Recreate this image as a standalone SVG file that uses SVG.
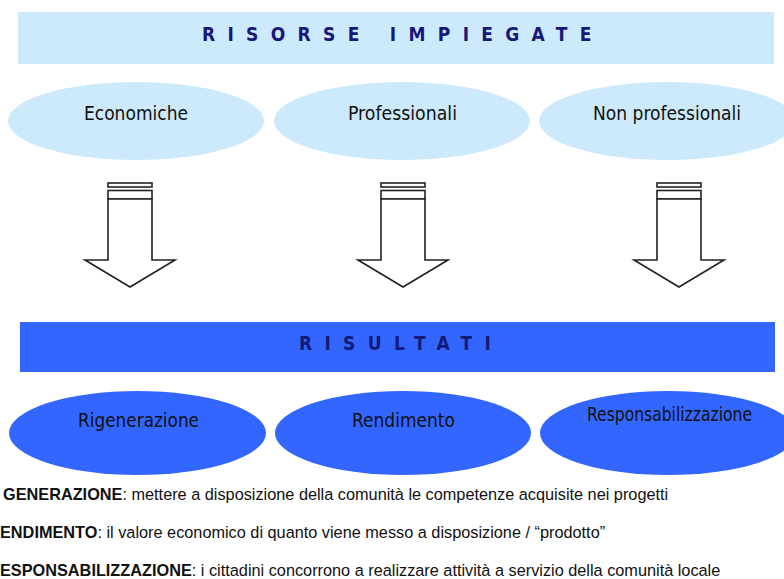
<svg xmlns="http://www.w3.org/2000/svg" width="784" height="579" viewBox="0 0 784 579">
<style>
.light{fill:#cceafb}
.dark{fill:#3366ff}
.title{font-family:"DejaVu Sans Condensed","DejaVu Sans",sans-serif;font-size:19px;font-weight:bold;fill:#17177a;letter-spacing:12.3px}
.lbl{font-family:"DejaVu Sans Condensed","DejaVu Sans",sans-serif;font-size:19px;fill:#111}
.desc{font-family:"Liberation Sans",Arial,sans-serif;font-size:16.3px;fill:#111}
.desc tspan.b{font-weight:bold}
.arrow{fill:#fff;stroke:#222;stroke-width:1.6;stroke-linejoin:miter}
</style>
<defs>
<g id="downArrow">
<rect class="arrow" x="-22" y="183" width="44" height="4"/>
<rect class="arrow" x="-22" y="190.5" width="44" height="8.5"/>
<path class="arrow" d="M -22 199 V 260 H -45 L 0 287 L 45 260 H 22 V 199 Z"/>
</g>
</defs>

<g id="risorse">
<rect class="light" x="18" y="12" width="756" height="52"/>
<text class="title" x="202" y="41">RISORSE IMPIEGATE</text>
</g>

<g id="economiche">
<ellipse class="light" cx="136" cy="121" rx="128" ry="39"/>
<text class="lbl" x="84" y="120" textLength="104" lengthAdjust="spacingAndGlyphs">Economiche</text>
</g>
<g id="professionali">
<ellipse class="light" cx="402" cy="121" rx="128" ry="39"/>
<text class="lbl" x="348" y="120" textLength="109" lengthAdjust="spacingAndGlyphs">Professionali</text>
</g>
<g id="nonprofessionali">
<ellipse class="light" cx="667" cy="121" rx="128" ry="39"/>
<text class="lbl" x="593" y="120" textLength="148" lengthAdjust="spacingAndGlyphs">Non professionali</text>
</g>

<g id="connectors">
<use href="#downArrow" transform="translate(130,0)"/>
<use href="#downArrow" transform="translate(403,0)"/>
<use href="#downArrow" transform="translate(679,0)"/>
</g>

<g id="risultati">
<rect class="dark" x="20" y="322" width="755" height="50"/>
<text class="title" x="299" y="350" style="fill:#141a78">RISULTATI</text>
</g>

<g id="rigenerazione">
<ellipse class="dark" cx="137.5" cy="433" rx="128.5" ry="42"/>
<text class="lbl" x="78" y="427" textLength="121" lengthAdjust="spacingAndGlyphs">Rigenerazione</text>
</g>
<g id="rendimento">
<ellipse class="dark" cx="403" cy="433" rx="128" ry="42"/>
<text class="lbl" x="352" y="427" textLength="103" lengthAdjust="spacingAndGlyphs">Rendimento</text>
</g>
<g id="responsabilizzazione">
<ellipse class="dark" cx="668" cy="433" rx="128" ry="42"/>
<text class="lbl" x="587" y="421" textLength="165" lengthAdjust="spacingAndGlyphs">Responsabilizzazione</text>
</g>

<g id="legenda">
<text class="desc" x="3" y="500"><tspan class="b">GENERAZIONE</tspan>: mettere a disposizione della comunità le competenze acquisite nei progetti</text>
<text class="desc" x="0" y="538"><tspan class="b">ENDIMENTO</tspan>: il valore economico di quanto viene messo a disposizione / “prodotto”</text>
<text class="desc" x="0" y="576"><tspan class="b">ESPONSABILIZZAZIONE</tspan>: i cittadini concorrono a realizzare attività a servizio della comunità locale</text>
</g>
</svg>
